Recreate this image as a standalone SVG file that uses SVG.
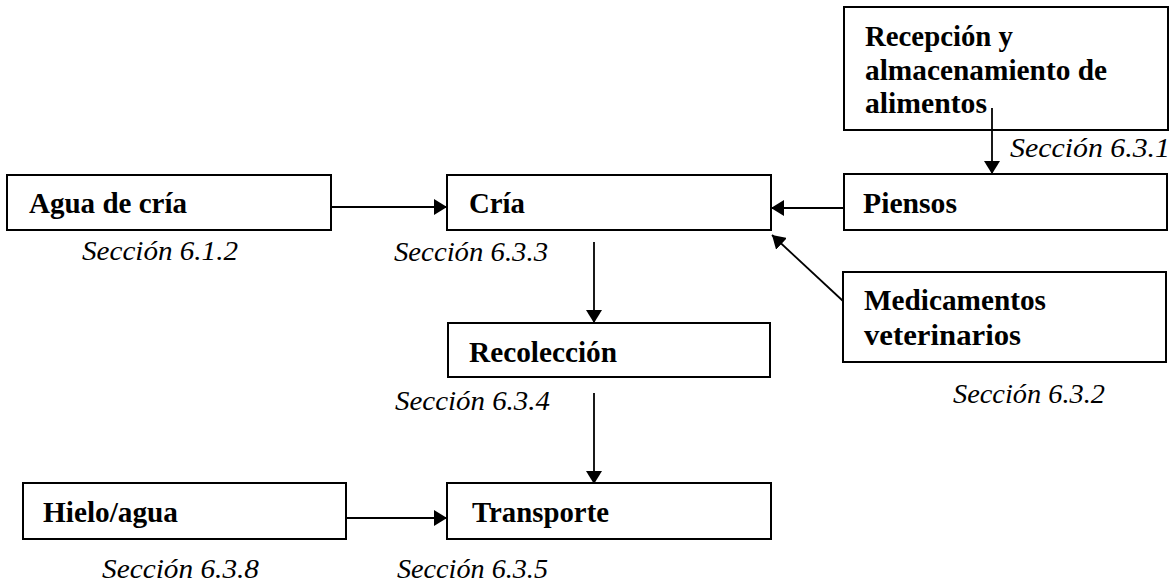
<svg xmlns="http://www.w3.org/2000/svg" width="1174" height="584" viewBox="0 0 1174 584">
<style>
.box{fill:#fff;stroke:#000;stroke-width:2}
.b{font-family:"Liberation Serif","Times New Roman",serif;font-weight:bold;font-size:29px;fill:#000}
.s{font-family:"Liberation Serif","Times New Roman",serif;font-style:italic;font-size:28px;fill:#000}
.c{stroke:#000;stroke-width:1.8;fill:none;marker-end:url(#ah)}
</style>
<defs>
<marker id="ah" viewBox="0 0 13 16" refX="13" refY="8" markerWidth="13" markerHeight="16" markerUnits="userSpaceOnUse" orient="auto">
<path d="M0,0 L13,8 L0,16 z" fill="#000"/>
</marker>
</defs>
<rect width="1174" height="584" fill="#fff"/>
<g id="recepcion">
<rect class="box" x="844" y="7" width="324" height="123"/>
<text class="b" x="865" y="46" textLength="148" lengthAdjust="spacingAndGlyphs">Recepción y</text>
<text class="b" x="865" y="80" textLength="242" lengthAdjust="spacingAndGlyphs">almacenamiento de</text>
<text class="b" x="865" y="113" textLength="122" lengthAdjust="spacingAndGlyphs">alimentos</text>
</g>
<text class="s" x="1010" y="157" textLength="160" lengthAdjust="spacingAndGlyphs">Sección 6.3.1</text>
<g id="agua">
<rect class="box" x="7" y="175" width="324" height="55"/>
<text class="b" x="29" y="213" textLength="158" lengthAdjust="spacingAndGlyphs">Agua de cría</text>
</g>
<text class="s" x="82" y="260" textLength="156" lengthAdjust="spacingAndGlyphs">Sección 6.1.2</text>
<g id="cria">
<rect class="box" x="447" y="175" width="324" height="55"/>
<text class="b" x="469" y="213" textLength="56" lengthAdjust="spacingAndGlyphs">Cría</text>
</g>
<text class="s" x="394" y="261" textLength="154" lengthAdjust="spacingAndGlyphs">Sección 6.3.3</text>
<g id="piensos">
<rect class="box" x="844" y="174" width="323" height="56"/>
<text class="b" x="863" y="213" textLength="94" lengthAdjust="spacingAndGlyphs">Piensos</text>
</g>
<g id="medicamentos">
<rect class="box" x="843" y="272" width="323" height="90"/>
<text class="b" x="864" y="310" textLength="182" lengthAdjust="spacingAndGlyphs">Medicamentos</text>
<text class="b" x="864" y="345" textLength="157" lengthAdjust="spacingAndGlyphs">veterinarios</text>
</g>
<text class="s" x="953" y="403" textLength="152" lengthAdjust="spacingAndGlyphs">Sección 6.3.2</text>
<g id="recoleccion">
<rect class="box" x="448" y="323" width="322" height="54"/>
<text class="b" x="469" y="362" textLength="148" lengthAdjust="spacingAndGlyphs">Recolección</text>
</g>
<text class="s" x="395" y="410" textLength="155" lengthAdjust="spacingAndGlyphs">Sección 6.3.4</text>
<g id="hielo">
<rect class="box" x="23" y="483" width="323" height="56"/>
<text class="b" x="43" y="522" textLength="135" lengthAdjust="spacingAndGlyphs">Hielo/agua</text>
</g>
<text class="s" x="102" y="578" textLength="157" lengthAdjust="spacingAndGlyphs">Sección 6.3.8</text>
<g id="transporte">
<rect class="box" x="447" y="483" width="324" height="56"/>
<text class="b" x="472" y="522" textLength="137" lengthAdjust="spacingAndGlyphs">Transporte</text>
</g>
<text class="s" x="397" y="578" textLength="151" lengthAdjust="spacingAndGlyphs">Sección 6.3.5</text>
<g id="connectors">
<line class="c" x1="331" y1="207" x2="447" y2="207"/>
<line class="c" x1="844" y1="208" x2="771" y2="208"/>
<line class="c" x1="992" y1="108" x2="992" y2="174"/>
<line class="c" x1="843" y1="301" x2="772" y2="235"/>
<line class="c" x1="594" y1="242" x2="594" y2="323"/>
<line class="c" x1="594" y1="393" x2="594" y2="484"/>
<line class="c" x1="346" y1="518" x2="447" y2="518"/>
</g>
</svg>
